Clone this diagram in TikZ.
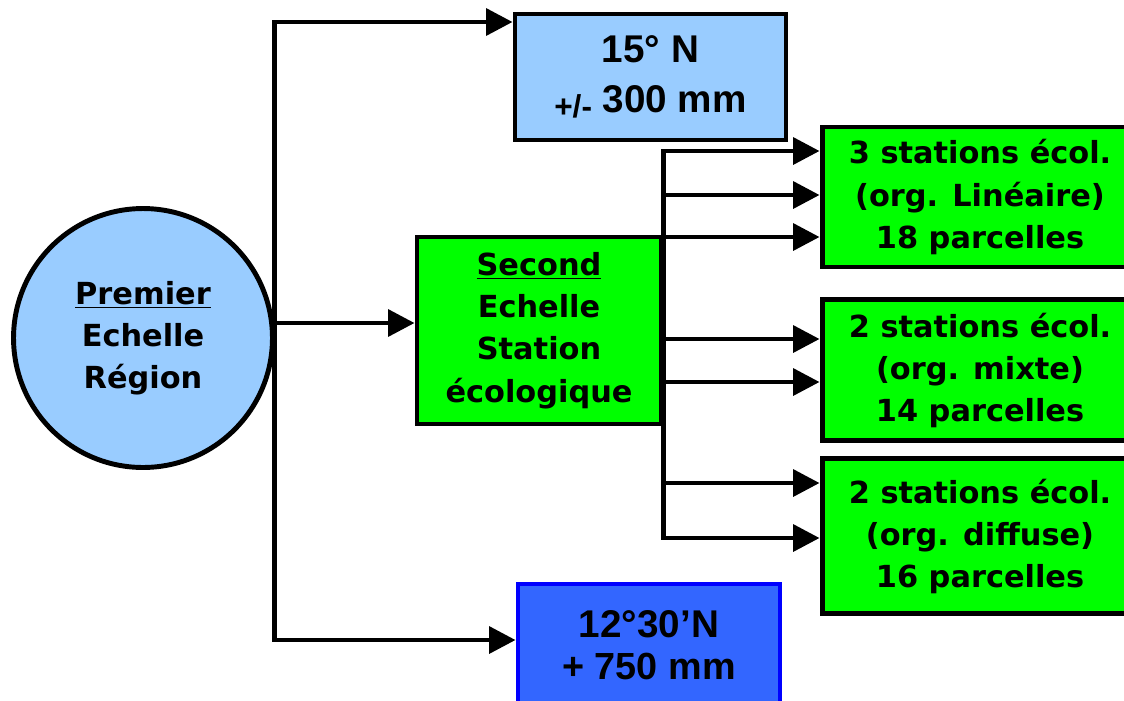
\documentclass[tikz,border=0pt]{standalone}
\usepackage{fontspec}
\setmainfont{DejaVu Sans}
\newfontfamily\latfont{Liberation Sans}
\usetikzlibrary{arrows.meta, positioning}
\definecolor{regionBlue}{RGB}{153,204,255}
\definecolor{stationGreen}{RGB}{0,255,0}
\definecolor{zoneBlue}{RGB}{51,102,255}
\definecolor{zoneBorder}{RGB}{0,0,255}
\tikzset{
    schema/.style={>={Triangle[length=15pt, width=15pt]}, line width=2.8pt,
                   font=\fontsize{17.3}{24}\selectfont\bfseries},
    region/.style={draw=black, circle, fill=regionBlue, minimum size=5.18cm,
                   inner sep=0pt, align=center},
    station/.style={draw=black, fill=stationGreen, align=center, inner sep=0pt},
    latitude/.style={draw=black, fill=regionBlue, align=center, inner sep=0pt,
                     font=\latfont\fontsize{22}{28}\selectfont\bfseries},
    pluie/.style={latitude, draw=zoneBorder, fill=zoneBlue,
                  font=\latfont\fontsize{22}{24}\selectfont\bfseries},
    arrow/.style={->, line width=2.8pt, draw=black},
}

\begin{document}
\begin{tikzpicture}[schema, x=0.02cm, y=-0.02cm]
\useasboundingbox (0,0) rectangle (1124,700);

% ─── Première échelle ───────────────────────────────────────────────────
\node[region] (region) at (143,338)
    {\underline{Premier}\\Echelle\\Région};

\node[latitude, minimum width=5.42cm, minimum height=2.52cm] (lat15) at (650.5,77)
    {15° N\\{\fontsize{18}{24}\selectfont\raisebox{-3pt}{+/-}} 300 mm};

\node[pluie, minimum width=5.24cm, minimum height=2.44cm] (lat12) at (649,645)
    {12°30’N\\{\fontsize{21.5}{24}\selectfont + 750 mm}};

% ─── Seconde échelle ────────────────────────────────────────────────────
\node[station, minimum width=4.88cm, minimum height=3.74cm] (station) at (539,330.5)
    {\underline{Second}\\Echelle\\Station\\écologique};

% Trois groupes de stations
\node[station, minimum width=6.32cm, minimum height=2.8cm] (lin) at (980,197)
    {3 stations écol.\\(org. Linéaire)\\18 parcelles};
\node[station, minimum width=6.32cm, minimum height=2.82cm, below=0.56cm of lin] (mix)
    {2 stations écol.\\(org. mixte)\\14 parcelles};
\node[station, minimum width=6.32cm, minimum height=3.1cm, below=0.26cm of mix] (dif)
    {2 stations écol.\\(org. diffuse)\\16 parcelles};

% ─── Flèches ────────────────────────────────────────────────────────────
\coordinate (tronc) at (region.east |- 0,323);
\draw[arrow] (tronc) |- (lat15.west |- 0,22);
\draw[arrow] (tronc) |- (lat12.west |- 0,640);
\draw[arrow] (tronc) -- (station.west |- 0,323);

\draw[arrow] (station.east |- 0,538) |- (lin.west |- 0,151);
\draw[arrow] (station.east |- 0,151) |- (dif.west |- 0,538);
\foreach \y/\cible in {195/lin, 237/lin, 339/mix, 382/mix, 483/dif}
    \draw[arrow] (station.east |- 0,\y) -- (\cible.west |- 0,\y);

\end{tikzpicture}
\end{document}
